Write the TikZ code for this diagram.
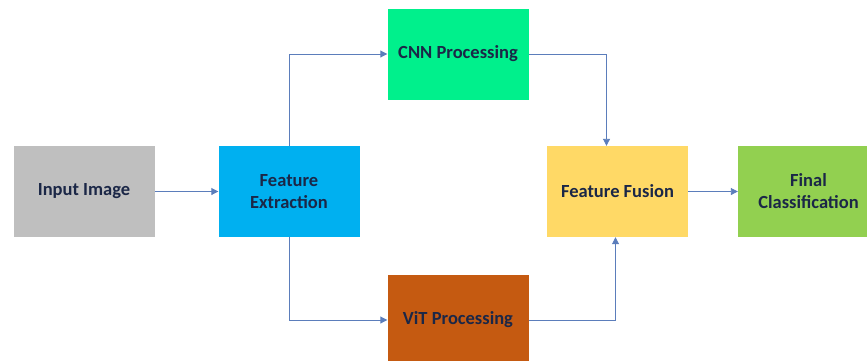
\documentclass[tikz,border=0pt]{standalone}
\usepackage{fontspec}
\setmainfont{Carlito}
\usetikzlibrary{arrows.meta}
\definecolor{linec}{HTML}{5B7DBB}
\definecolor{txt}{HTML}{1B2747}
\definecolor{cgray}{HTML}{BFBFBF}
\definecolor{cblue}{HTML}{00B0F0}
\definecolor{cgreen}{HTML}{00F08C}
\definecolor{corange}{HTML}{C55A11}
\definecolor{cyellow}{HTML}{FFD966}
\definecolor{clime}{HTML}{92D050}
\tikzset{
  box/.style={minimum width=141pt, minimum height=91pt, inner sep=0pt, align=center,
    font=\fontsize{18.5}{22}\selectfont\bfseries, text=txt},
  conn/.style={draw=linec, line width=0.9pt, -{Triangle[length=7pt,width=7pt]}}
}
\begin{document}
\begin{tikzpicture}[x=1pt,y=-1pt]
\useasboundingbox (0,0) rectangle (867,360);
\begin{scope}
\clip (0,0) rectangle (867,360);
\node[box, fill=cgray] (inp) at (84,191.5) {Input Image};
\node[box, fill=cblue] (fe) at (289,191.5) {Feature\\Extraction};
\node[box, fill=cgreen] (cnn) at (458,54) {CNN Processing};
\node[box, fill=corange] (vit) at (458,320) {ViT Processing};
\node[box, fill=cyellow] (ff) at (617.5,191.5) {Feature Fusion};
\node[box, fill=clime] (fc) at (808.5,191.5) {Final\\Classification};
\end{scope}
\draw[conn] (inp.east) -- (fe.west);
\draw[conn] (fe.north) |- (cnn.west);
\draw[conn] (fe.south) |- (vit.west);
\draw[conn] (cnn.east) -| ([xshift=-11pt]ff.north);
\draw[conn] (vit.east) -| ([xshift=-2pt]ff.south);
\draw[conn] (ff.east) -- (fc.west);
\end{tikzpicture}
\end{document}
